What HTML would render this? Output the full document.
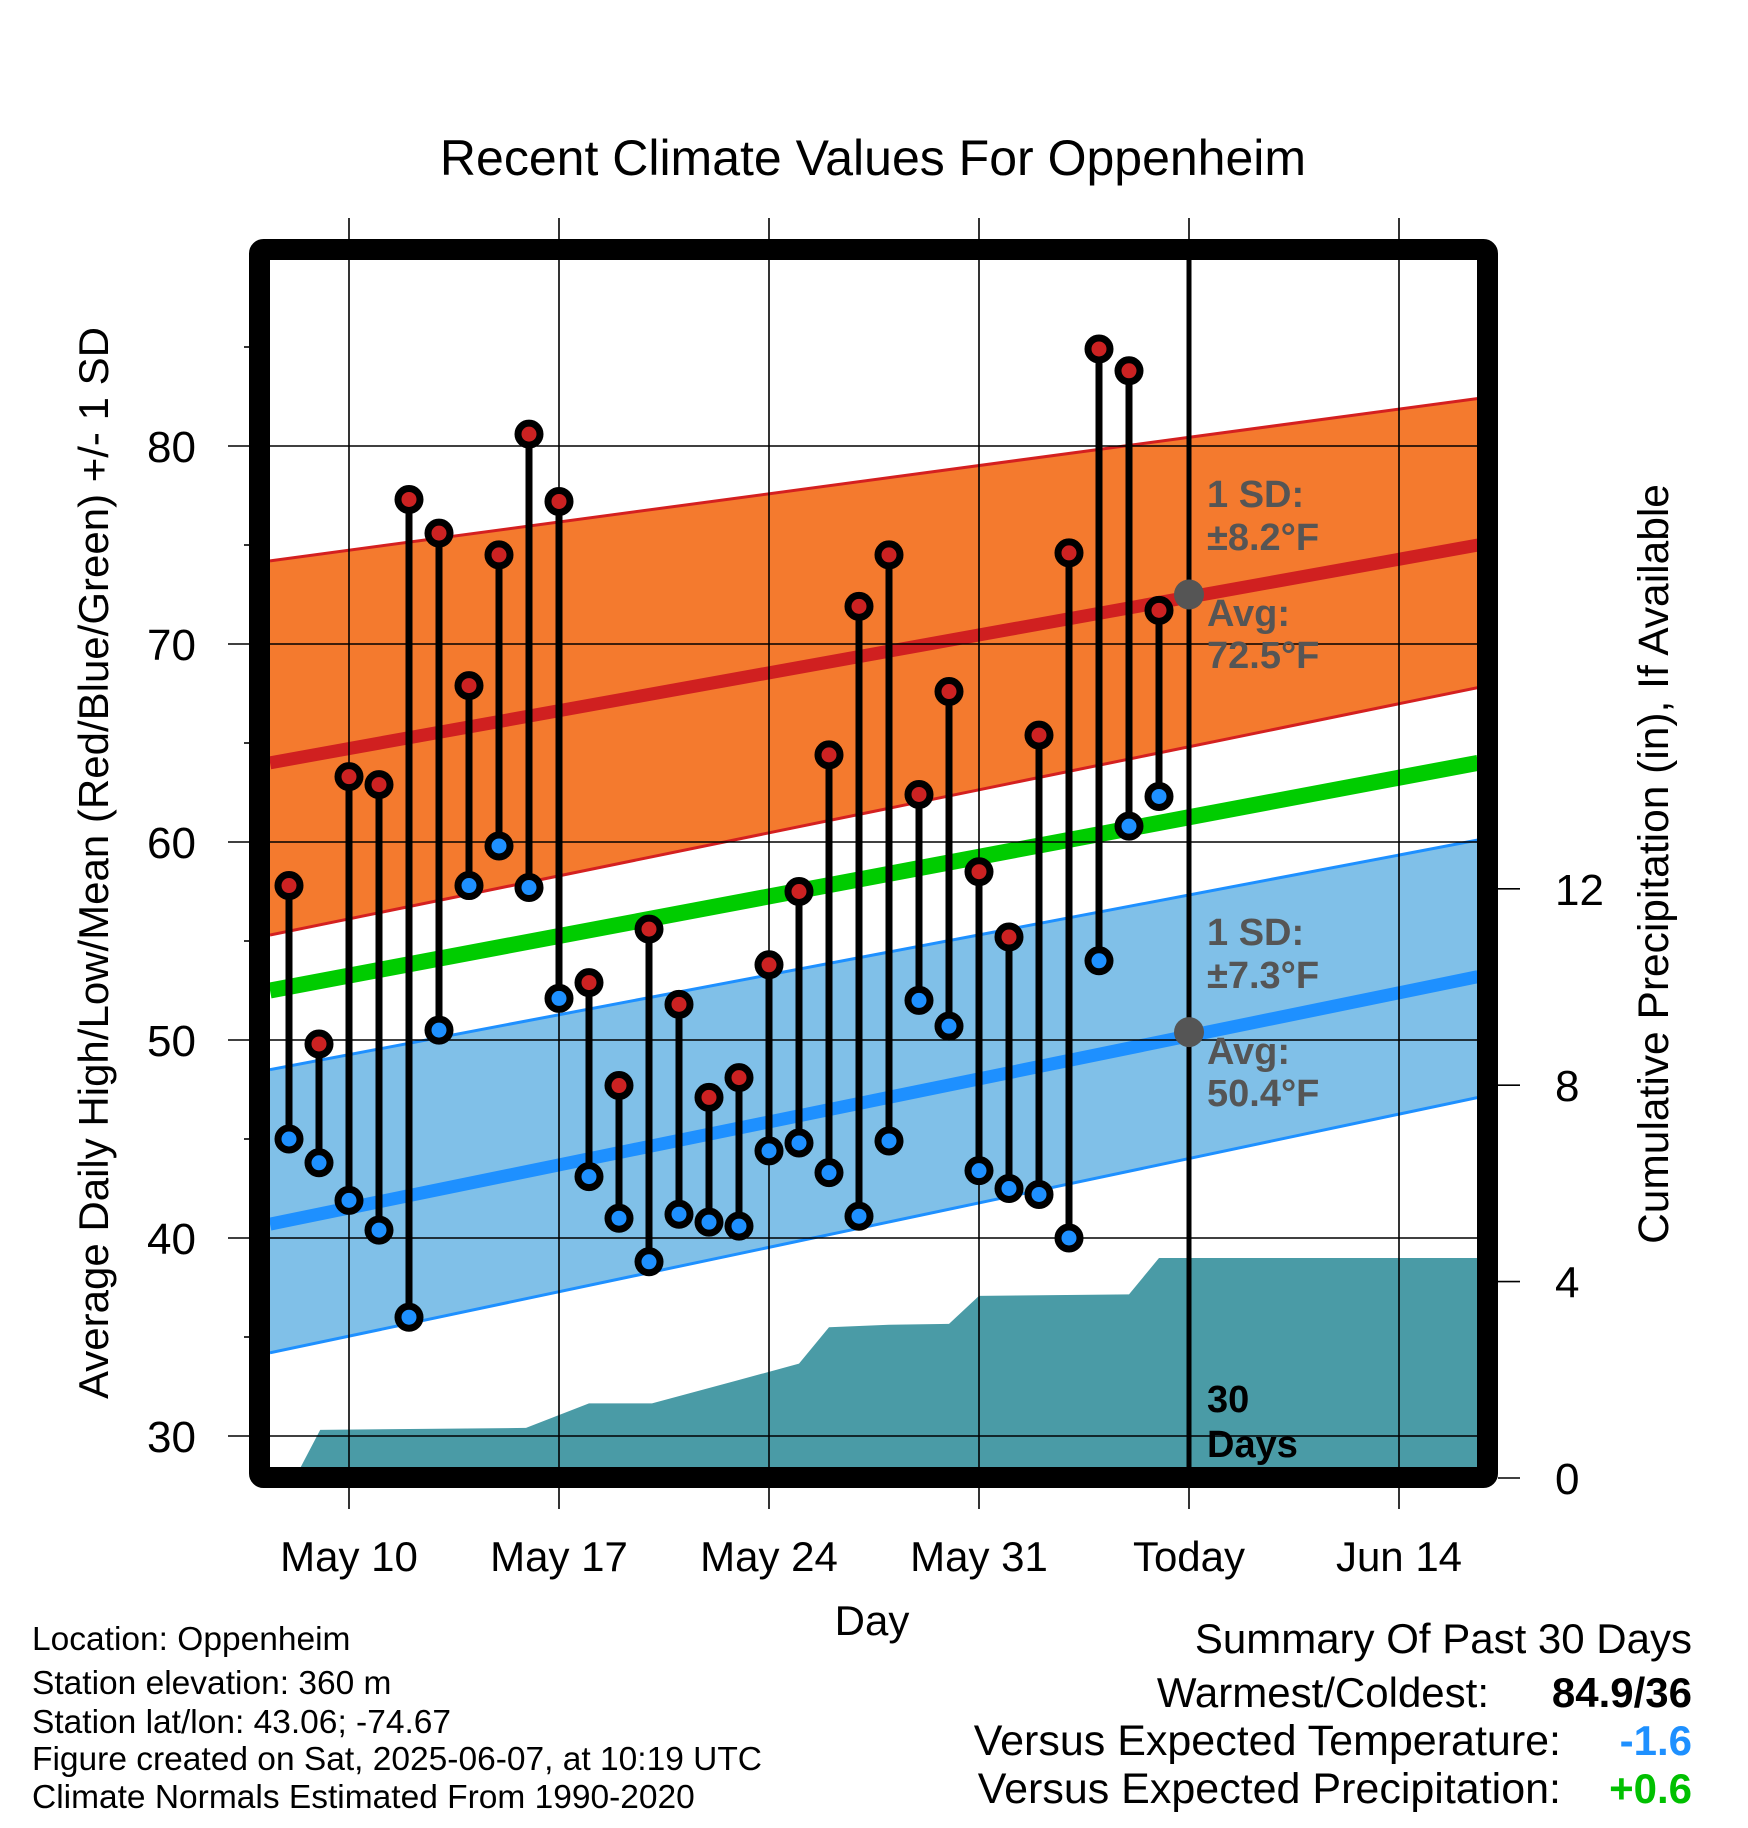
<!DOCTYPE html>
<html><head><meta charset="utf-8"><style>
html,body{margin:0;padding:0;background:#fff;}
svg{display:block;font-family:"Liberation Sans",sans-serif;}
</style></head><body>
<svg id="chart" width="1748" height="1828" viewBox="0 0 1748 1828" xmlns="http://www.w3.org/2000/svg">
<text x="873" y="175" font-size="50" text-anchor="middle">Recent Climate Values For Oppenheim</text>
<g id="plot"></g>
<text transform="translate(108,863) rotate(-90)" font-size="42" text-anchor="middle">Average Daily High/Low/Mean (Red/Blue/Green) +/- 1 SD</text>
<text transform="translate(1668,864) rotate(-90)" font-size="42.5" text-anchor="middle">Cumulative Precipitation (in), If Available</text>
<text x="872" y="1635" font-size="42" text-anchor="middle">Day</text>
<g font-size="33.5">
<text x="32" y="1650">Location: Oppenheim</text>
<text x="32" y="1694">Station elevation: 360 m</text>
<text x="32" y="1733">Station lat/lon: 43.06; -74.67</text>
<text x="32" y="1770">Figure created on Sat, 2025-06-07, at 10:19 UTC</text>
<text x="32" y="1808">Climate Normals Estimated From 1990-2020</text>
</g>
<g font-size="42">
<text x="1692" y="1653" text-anchor="end">Summary Of Past 30 Days</text>
<text x="1489" y="1707" text-anchor="end">Warmest/Coldest:</text>
<text x="1692" y="1707" text-anchor="end" font-weight="bold">84.9/36</text>
<text x="1561" y="1755" text-anchor="end" font-size="43">Versus Expected Temperature:</text>
<text x="1692" y="1755" text-anchor="end" font-weight="bold" fill="#1e90ff">-1.6</text>
<text x="1561" y="1803" text-anchor="end" font-size="43">Versus Expected Precipitation:</text>
<text x="1692" y="1803" text-anchor="end" font-weight="bold" fill="#00c000">+0.6</text>
</g>
</svg>
<script>
const highs=[57.8,49.8,63.3,62.9,77.3,75.6,67.9,74.5,80.6,77.2,52.9,47.7,55.6,51.8,47.1,48.1,53.8,57.5,64.4,71.9,74.5,62.4,67.6,58.5,55.2,65.4,74.6,84.9,83.8,71.7];
const lows=[45.0,43.8,41.9,40.4,36.0,50.5,57.8,59.8,57.7,52.1,43.1,41.0,38.8,41.2,40.8,40.6,44.4,44.8,43.3,41.1,44.9,52.0,50.7,43.4,42.5,42.2,40.0,54.0,60.8,62.3];
const precipDays=[0.2,1.04,7.9,10.0,12.1,14.9,17.0,18.0,20,22,23,28,29,39.6];
const precipVals=[0,0.98,1.02,1.52,1.52,1.98,2.33,3.07,3.12,3.14,3.71,3.74,4.48,4.48];
const hiNormStart=[55.3,64.0,74.2], hiNormEnd=[67.8,75.0,82.4];
const loNormStart=[34.2,40.7,48.5], loNormEnd=[47.1,53.2,60.1];
const meanNorm=[52.5,64.0];
const yTicks=[30,40,50,60,70,80];
const precipTicks=[0,4,8,12];
const xTickLabels=["May 10","May 17","May 24","May 31","Today","Jun 14"];
const xTickDays=[2,9,16,23,30,37];

const NS="http://www.w3.org/2000/svg";
const g=document.getElementById('plot');
const L=270,R=1478,T=260,B=1468;
const X=d=>349+(d-2)*30;
const Y=v=>446+(80-v)*19.8;
const P=p=>1478-p*49.1;
function el(tag,attrs,parent){const e=document.createElementNS(NS,tag);for(const k in attrs)e.setAttribute(k,attrs[k]);(parent||g).appendChild(e);return e;}
function bandPath(s0,e0,s1,e1){return `M${L},${Y(s1)} L${R},${Y(e1)} L${R},${Y(e0)} L${L},${Y(s0)} Z`;}
const clip=el('clipPath',{id:'inner'});el('rect',{x:L,y:T,width:R-L,height:B-T},clip);
const pg=el('g',{'clip-path':'url(#inner)'});

let b=el('path',{d:bandPath(hiNormStart[0],hiNormEnd[0],hiNormStart[2],hiNormEnd[2]),fill:'#f47a2e'},pg);

for(const i of [0,2]){let l=el('line',{x1:L,y1:Y(hiNormStart[i]),x2:R,y2:Y(hiNormEnd[i]),stroke:'#d42020','stroke-width':3},pg);
}
b=el('path',{d:bandPath(loNormStart[0],loNormEnd[0],loNormStart[2],loNormEnd[2]),fill:'#80c0e8'},pg);

for(const i of [0,2]){let l=el('line',{x1:L,y1:Y(loNormStart[i]),x2:R,y2:Y(loNormEnd[i]),stroke:'#1e90ff','stroke-width':3},pg);
}
let ln=el('line',{x1:L,y1:Y(hiNormStart[1]),x2:R,y2:Y(hiNormEnd[1]),stroke:'#d02020','stroke-width':13},pg);

ln=el('line',{x1:L,y1:Y(loNormStart[1]),x2:R,y2:Y(loNormEnd[1]),stroke:'#1e90ff','stroke-width':13},pg);

ln=el('line',{x1:L,y1:Y(meanNorm[0]),x2:R,y2:Y(meanNorm[1]),stroke:'#00cc00','stroke-width':16},pg);


let pd=`M${X(precipDays[0])},${P(precipVals[0])}`;
for(let i=1;i<precipDays.length;i++)pd+=` L${X(precipDays[i])},${P(precipVals[i])}`;
pd+=` L${X(precipDays[precipDays.length-1])},${B+20} L${X(precipDays[0])},${B+20} Z`;
const pa=el('path',{d:pd,fill:'#4a9ba6'},pg);


yTicks.forEach(v=>{const l=el('line',{x1:228,y1:Y(v),x2:R,y2:Y(v),stroke:'#000','stroke-width':1.6});

const t=el('text',{x:196,y:Y(v)+16,'font-size':44,'text-anchor':'end'});t.textContent=v;
});
[35,45,55,65,75,85].forEach(v=>{const l=el('line',{x1:244,y1:Y(v),x2:252,y2:Y(v),stroke:'#000','stroke-width':1.6});
});
xTickDays.forEach((d,i)=>{const l=el('line',{x1:X(d),y1:218,x2:X(d),y2:1509,stroke:'#000','stroke-width':1.6});

const t=el('text',{x:X(d),y:1571,'font-size':42,'text-anchor':'middle'});t.textContent=xTickLabels[i];
});
precipTicks.forEach(p=>{const l=el('line',{x1:1498,y1:P(p),x2:1520,y2:P(p),stroke:'#000','stroke-width':1.6});

const t=el('text',{x:1555,y:P(p)+16,'font-size':44});t.textContent=p;
});

const tl=el('line',{x1:X(30),y1:T,x2:X(30),y2:B,stroke:'#000','stroke-width':5});


highs.forEach((h,i)=>{const x=X(i);
const s=el('line',{x1:x,y1:Y(h),x2:x,y2:Y(lows[i]),stroke:'#000','stroke-width':7});
});
highs.forEach((h,i)=>{const x=X(i);
const c1=el('circle',{cx:x,cy:Y(h),r:11,fill:'#cc2222',stroke:'#000','stroke-width':7});

const c2=el('circle',{cx:x,cy:Y(lows[i]),r:11,fill:'#1e90ff',stroke:'#000','stroke-width':7});
});

const d1=el('circle',{cx:X(30),cy:Y(72.5),r:15,fill:'#555'});

const d2=el('circle',{cx:X(30),cy:Y(50.4),r:15,fill:'#555'});


function ann(txt,y,name,col){const t=el('text',{x:1207,y:y,'font-size':38,'font-weight':'bold',fill:col});t.textContent=txt;
}
ann('1 SD:',507,'high-sd-label','#555');ann('±8.2°F',550,'high-sd-value','#555');
ann('Avg:',626,'high-avg-label','#555');ann('72.5°F',668,'high-avg-value','#555');
ann('1 SD:',945,'low-sd-label','#555');ann('±7.3°F',988,'low-sd-value','#555');
ann('Avg:',1064,'low-avg-label','#555');ann('50.4°F',1106,'low-avg-value','#555');
ann('30',1412,'days-count-label','#000');ann('Days',1457,'days-unit-label','#000');

const fr=el('rect',{x:259.5,y:249.5,width:1228,height:1228,fill:'none',stroke:'#000','stroke-width':21,rx:4});

</script>
</body></html>
